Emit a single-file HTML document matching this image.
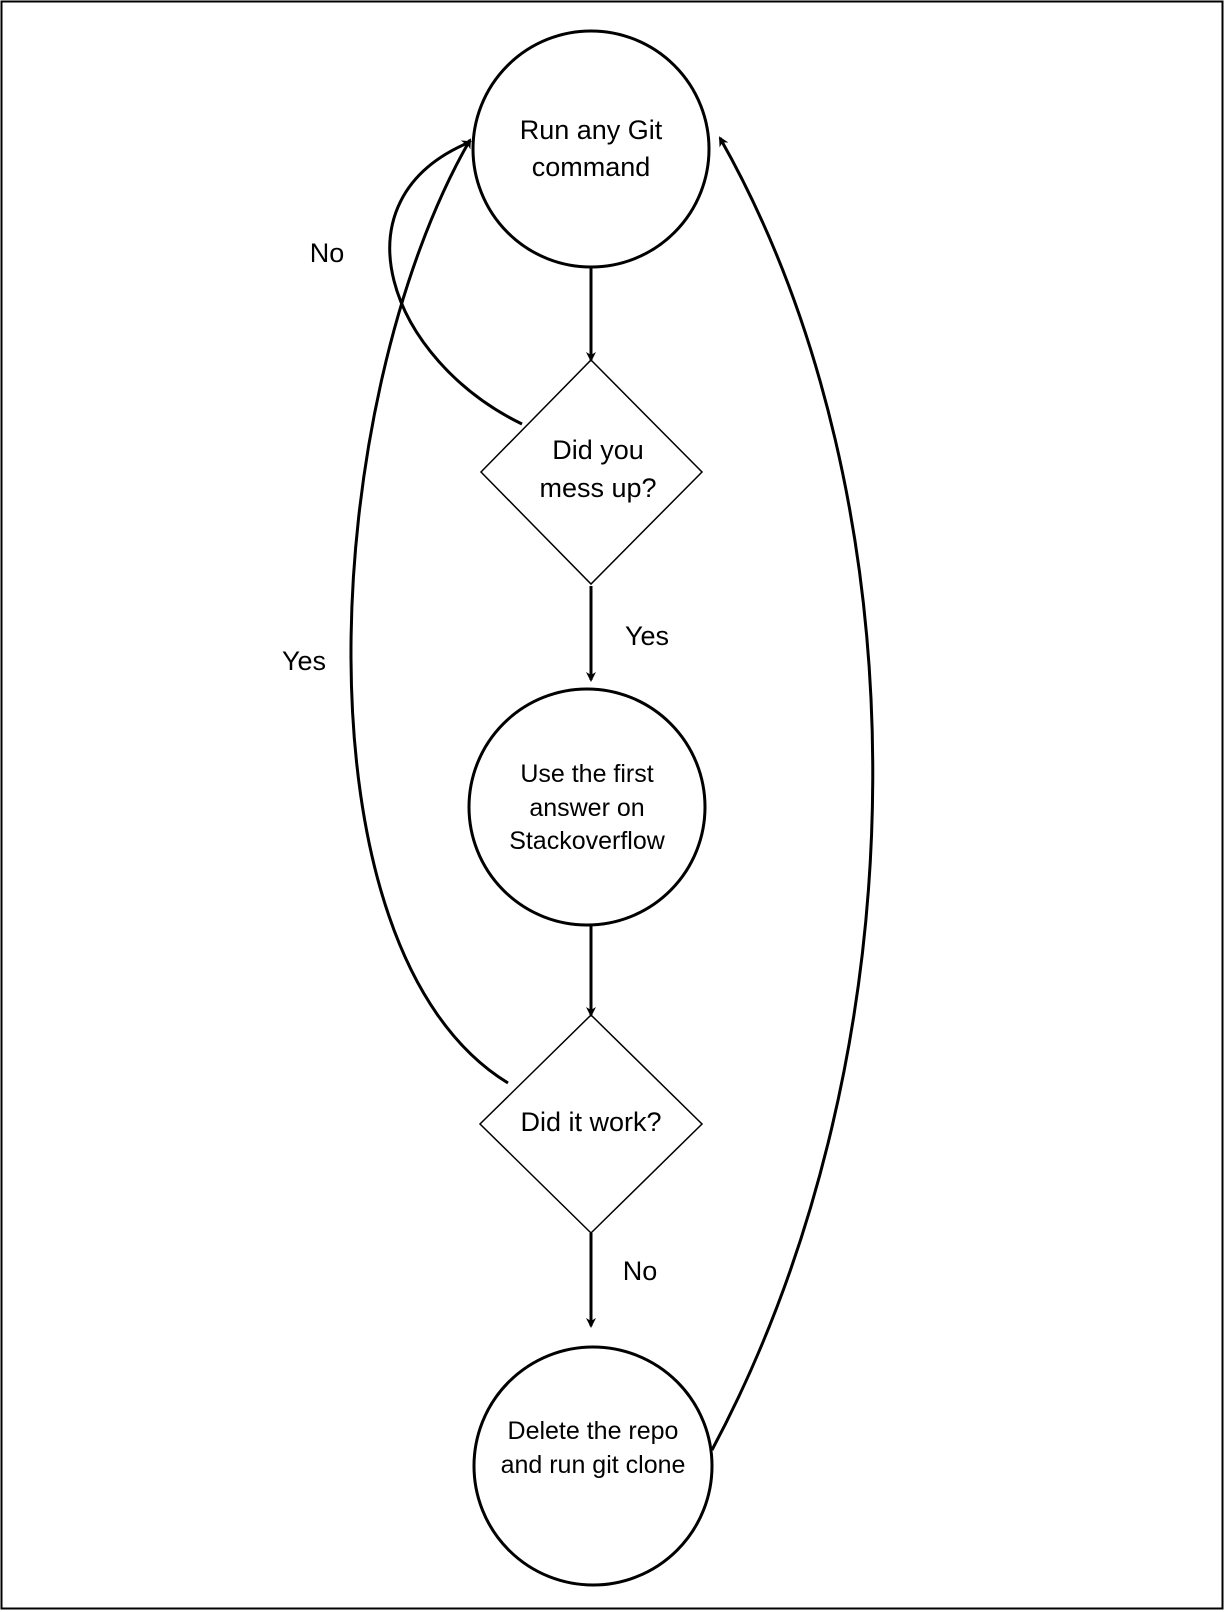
<!DOCTYPE html>
<html><head><style>html,body{margin:0;padding:0;background:#fff}svg{display:block}text{font-family:"Liberation Sans",sans-serif;fill:#000}</style></head>
<body>
<svg width="1225" height="1612" viewBox="0 0 1225 1612" xmlns="http://www.w3.org/2000/svg">
<defs><marker id="a" markerWidth="10" markerHeight="10" refX="8" refY="5" orient="auto" markerUnits="userSpaceOnUse"><path d="M0,0 L10,5 L0,10 L3,5 Z" fill="#000"/></marker></defs>
<rect x="1.5" y="1.5" width="1221" height="1607" fill="none" stroke="#000" stroke-width="2"/>
<g fill="none" stroke="#000" stroke-width="3">
<circle cx="591" cy="149" r="118"/>
<circle cx="587" cy="807" r="118"/>
<circle cx="593" cy="1466" r="119"/>
</g>
<g fill="none" stroke="#000" stroke-width="1.5">
<polygon points="591,360 702,472 591,584 481,472"/>
<polygon points="591,1015 702,1124 591,1233 480,1124"/>
</g>
<g fill="none" stroke="#000" stroke-width="3" marker-end="url(#a)">
<line x1="591" y1="267" x2="591" y2="360"/>
<line x1="591" y1="586" x2="591" y2="680"/>
<line x1="591" y1="925" x2="591" y2="1015"/>
<line x1="591" y1="1233" x2="591" y2="1326"/>
<path d="M522,424 C390,360 330,200 470,142"/>
<path d="M508,1083 C290,950 320,400 470,140"/>
<path d="M712,1450 C925,1050 925,500 720,138"/>
</g>
<g font-size="27" text-anchor="middle">
<text x="591" y="139">Run any Git</text>
<text x="591" y="176">command</text>
<text x="598" y="459">Did you</text>
<text x="598" y="497">mess up?</text>
<text x="591" y="1131">Did it work?</text>
<text x="647" y="645">Yes</text>
<text x="327" y="262">No</text>
<text x="304" y="670">Yes</text>
<text x="640" y="1280">No</text>
</g>
<g font-size="25" text-anchor="middle">
<text x="587" y="782">Use the first</text>
<text x="587" y="816">answer on</text>
<text x="587" y="849">Stackoverflow</text>
<text x="593" y="1439">Delete the repo</text>
<text x="593" y="1473">and run git clone</text>
</g>
</svg>
</body></html>
